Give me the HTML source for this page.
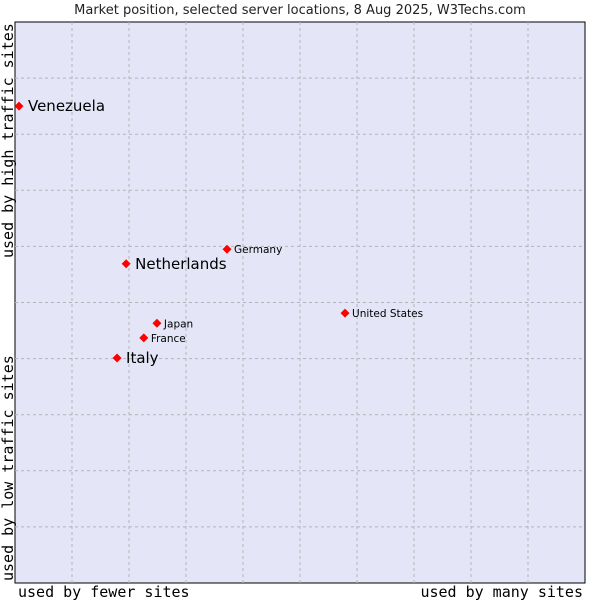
<!DOCTYPE html>
<html><head><meta charset="utf-8"><style>
body{margin:0;background:#fff;}
svg{display:block;font-family:"DejaVu Sans","Liberation Sans",sans-serif;}
</style></head><body>
<svg id="chart" width="600" height="600" viewBox="0 0 600 600">
<text x="300" y="14" text-anchor="middle" font-size="13" fill="#222">Market position, selected server locations, 8 Aug 2025, W3Techs.com</text>
<rect x="15" y="22" width="570" height="561" fill="#e4e6f8" stroke="#000" stroke-width="1"/>
<g id="grid"></g>
<g id="points"></g>
<text x="18" y="597" font-family="DejaVu Sans Mono,Liberation Mono,monospace" font-size="15" fill="#000">used by fewer sites</text>
<text x="583" y="597" text-anchor="end" font-family="DejaVu Sans Mono,Liberation Mono,monospace" font-size="15" fill="#000">used by many sites</text>
<text transform="translate(13,258) rotate(-90)" font-family="DejaVu Sans Mono,Liberation Mono,monospace" font-size="15" fill="#000">used by high traffic sites</text>
<text transform="translate(13,581) rotate(-90)" font-family="DejaVu Sans Mono,Liberation Mono,monospace" font-size="15" fill="#000">used by low traffic sites</text>
</svg>
<script>
const names=["Venezuela","Netherlands","Germany","United States","Japan","France","Italy"];
const xValues=[0.7,19.5,37.2,57.9,24.9,22.6,17.9];
const yValues=[85.0,56.9,59.5,48.1,46.3,43.7,40.1];
const highlighted=[true,true,false,false,false,false,true];
const X0=15,W=570,Y0=22,H=561;
function sx(v){return X0+v/100*W;}
function sy(v){return Y0+H-v/100*H;}
const NS="http://www.w3.org/2000/svg";
const grid=document.getElementById('grid');
for(let i=1;i<10;i++){
  let l=document.createElementNS(NS,'line');
  l.setAttribute('x1',sx(i*10));l.setAttribute('x2',sx(i*10));l.setAttribute('y1',Y0);l.setAttribute('y2',Y0+H);
  l.setAttribute('stroke','#b4b4b4');l.setAttribute('stroke-dasharray','3,3');
  
  
  grid.appendChild(l);
  let h=document.createElementNS(NS,'line');
  h.setAttribute('y1',sy(i*10));h.setAttribute('y2',sy(i*10));h.setAttribute('x1',X0);h.setAttribute('x2',X0+W);
  h.setAttribute('stroke','#b4b4b4');h.setAttribute('stroke-dasharray','3,3');
  
  
  grid.appendChild(h);
}
const pts=document.getElementById('points');
names.forEach((n,i)=>{
  const x=sx(xValues[i]),y=sy(yValues[i]);
  const d=document.createElementNS(NS,'path');
  d.setAttribute('d',`M${x-4.5},${y} L${x},${y-4.5} L${x+4.5},${y} L${x},${y+4.5}Z`);
  d.setAttribute('fill','#f00');
  
  
  pts.appendChild(d);
  const t=document.createElementNS(NS,'text');
  const big=highlighted[i];
  t.setAttribute('x',x+(big?9:7));t.setAttribute('y',y+(big?5:4));
  t.setAttribute('font-size',big?15:10.5);
  t.setAttribute('fill','#000');
  t.textContent=n;
  
  
  pts.appendChild(t);
});
</script>
</body></html>
